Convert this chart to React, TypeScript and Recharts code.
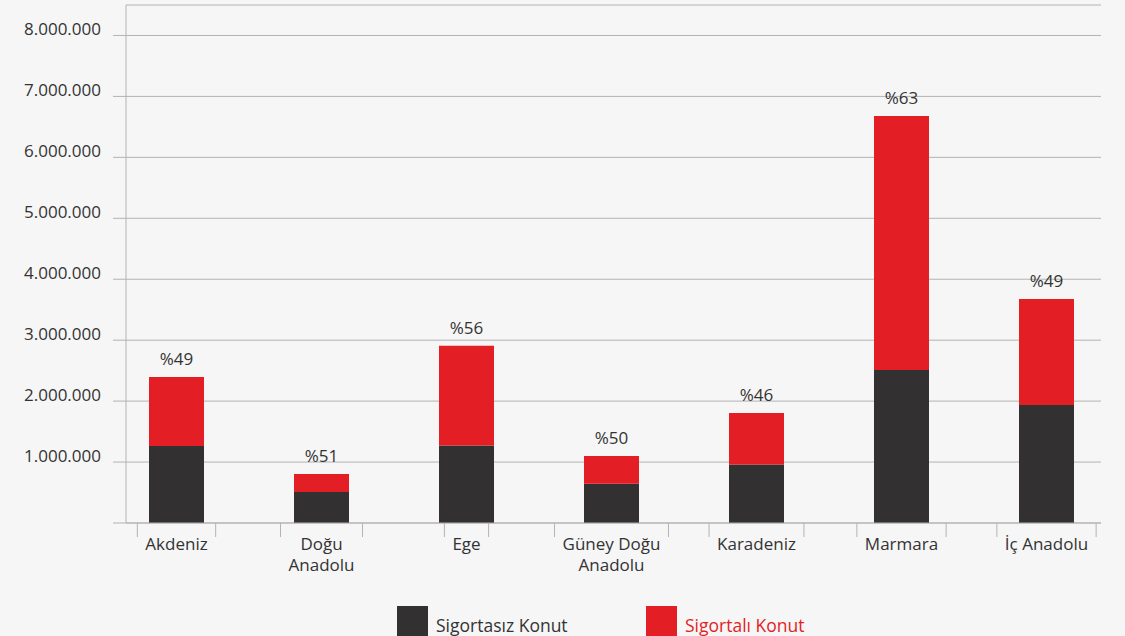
import { BarChart, Bar, XAxis, YAxis, CartesianGrid, LabelList } from 'recharts';

const categories = ['Akdeniz', 'Doğu Anadolu', 'Ege', 'Güney Doğu Anadolu', 'Karadeniz', 'Marmara', 'İç Anadolu'];
const tickLabels = [['Akdeniz'], ['Doğu', 'Anadolu'], ['Ege'], ['Güney Doğu', 'Anadolu'], ['Karadeniz'], ['Marmara'], ['İç Anadolu']];
const sigortasiz = [1265000, 510000, 1270000, 645000, 960000, 2510000, 1936000];
const sigortali = [1130000, 295000, 1640000, 455000, 845000, 4170000, 1740000];
const pct = [49, 51, 56, 50, 46, 63, 49];
const yTicks = [0, 1000000, 2000000, 3000000, 4000000, 5000000, 6000000, 7000000, 8000000];

const series = [
  { key: 'sigortasiz', name: 'Sigortasız Konut', color: '#323031', text: '#333333' },
  { key: 'sigortali', name: 'Sigortalı Konut', color: '#e31e25', text: '#e31e25' },
];

const data = categories.map((c, i) => ({
  name: c,
  sigortasiz: sigortasiz[i],
  sigortali: sigortali[i],
  pct: pct[i],
}));

const FONT = '"Open Sans", "Noto Sans", sans-serif';
const GRID = '#b3b3b3';
const TEXT = '#333333';

const ctx = typeof document !== 'undefined' ? document.createElement('canvas').getContext('2d') : null;
const textWidth = (s: string) => {
  if (!ctx) return s.length * 8.8;
  ctx.font = `17px ${FONT}`;
  return ctx.measureText(s).width;
};

const fmt = (v: number) => (v === 0 ? '' : String(v).replace(/\B(?=(\d{3})+(?!\d))/g, '.'));

const YTick = ({ x, y, payload }: any) => (
  <text x={x} y={y} textAnchor="end" fill={TEXT} fontSize={17}>
    {fmt(payload.value)}
  </text>
);

// label box edges drawn as small ticks, like the source chart
const XTick = ({ x, y, index }: any) => {
  const lines = tickLabels[index] || [];
  const hw = Math.max(...lines.map(textWidth)) / 2 + 8;
  return (
    <g>
      <line x1={x - hw} x2={x - hw} y1={y} y2={y + 14} stroke={GRID} />
      <line x1={x + hw} x2={x + hw} y1={y} y2={y + 14} stroke={GRID} />
      {lines.map((l, i) => (
        <text key={i} x={x} y={y + 26.5 + i * 21.5} textAnchor="middle" fill={TEXT} fontSize={17}>
          {l}
        </text>
      ))}
    </g>
  );
};

export default function App() {
  return (
    <div style={{ position: 'absolute', left: 0, top: 0, width: 1125, height: 636, background: '#f6f6f6', fontFamily: FONT, overflow: 'hidden' }}>
      <BarChart width={1125} height={636} data={data} margin={{ top: 5, right: 24, left: 0, bottom: 0 }}>
        <CartesianGrid vertical={false} stroke={GRID} />
        <XAxis
          dataKey="name"
          height={113}
          stroke={GRID}
          tickLine={false}
          tickSize={0}
          tickMargin={0}
          interval={0}
          padding={{ left: -22, right: -18 }}
          tick={<XTick />}
        />
        <YAxis
          width={126}
          domain={[0, 8500000]}
          ticks={yTicks}
          stroke={GRID}
          tickSize={13}
          tickMargin={12}
          tick={<YTick />}
        />
        <Bar dataKey="sigortasiz" stackId="a" fill={series[0].color} barSize={55} isAnimationActive={false} />
        <Bar dataKey="sigortali" stackId="a" fill={series[1].color} barSize={55} isAnimationActive={false}>
          <LabelList dataKey="pct" position="top" offset={12} fill={TEXT} fontSize={17} formatter={(v: any) => `%${v}`} />
        </Bar>
      </BarChart>
      <div style={{ position: 'absolute', left: 397, top: 606, display: 'flex' }}>
        {series.map((s) => (
          <div key={s.key} style={{ display: 'flex', width: 249 }}>
            <div style={{ width: 31, height: 31, background: s.color }} />
            <div style={{ marginLeft: 8, fontSize: 17.5, lineHeight: '31px', paddingTop: 4, color: s.text }}>{s.name}</div>
          </div>
        ))}
      </div>
    </div>
  );
}
